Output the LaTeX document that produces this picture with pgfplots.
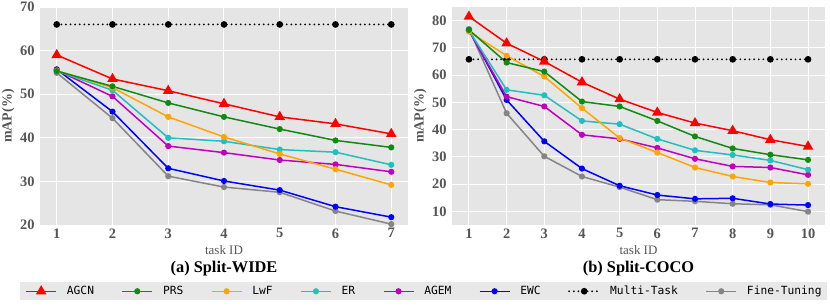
\documentclass[border=0pt]{standalone}
\usepackage{pgfplots}
\pgfplotsset{compat=1.18}
\usepackage{fontspec}
\setmainfont{Liberation Serif}
\newfontfamily\legfont{DejaVu Sans Mono}
\definecolor{bg}{HTML}{E5E5E5}
\definecolor{legbg}{HTML}{E8E8E8}
\definecolor{tickgrey}{HTML}{555555}
\definecolor{cgreen}{HTML}{108A10}
\definecolor{corange}{HTML}{FFA500}
\definecolor{ccyan}{HTML}{1FC0C0}
\definecolor{cmag}{HTML}{C000C0}
\definecolor{cblue}{HTML}{0000FF}
\definecolor{cgrey}{HTML}{858585}
\pgfplotsset{
  myax/.style={
    scale only axis, height=218bp,
    axis background/.style={fill=bg},
    axis line style={draw=none},
    major tick length=0pt,
    grid=major, grid style={white, line width=1bp},
    /pgf/number format/assume math mode=true,
    ticklabel style={font=\fontsize{14.5}{14}\selectfont\bfseries, text=tickgrey},
    yticklabel style={xshift=-2bp},
    xlabel={task ID},
    xlabel style={font=\fontsize{13}{13}\selectfont, text=tickgrey, yshift=0bp},
    ylabel={mAP(\%)},
    ylabel style={font=\fontsize{14}{14}\selectfont\bfseries, text=tickgrey, yshift=-1.5bp},
    title style={at={(0.5,-0.225)}, anchor=center, font=\fontsize{16.4}{16}\selectfont\bfseries},
    every axis plot/.append style={line width=1.5bp},
    legend image code/.code={
      \draw[mark repeat=2,mark phase=2,##1] plot coordinates {(0bp,0bp) (15bp,0bp) (30bp,0bp)};
    },
    clip=false,
  },
  agcn/.style={red, mark=triangle*, mark size=4.6bp},
  prs/.style={cgreen, mark=*, mark size=2.3bp},
  lwf/.style={corange, mark=*, mark size=2.3bp},
  er/.style={ccyan, mark=*, mark size=2.3bp},
  agem/.style={cmag, mark=*, mark size=2.3bp},
  ewc/.style={cblue, mark=*, mark size=2.3bp},
  multi/.style={black, line width=2bp, dash pattern=on 0bp off 4.6bp, line cap=round, mark=*, mark size=2.3bp, mark options={solid}},
  ft/.style={cgrey, mark=*, mark size=2.3bp},
}
\begin{document}
\begin{tikzpicture}
\begin{axis}[myax, width=368bp, xmin=0.7, xmax=7.3, ymin=20, ymax=70,
  xtick={1,...,7}, ytick={20,30,...,70}, title={(a) Split-WIDE}]
\addplot[multi] coordinates {(1,66) (2,66) (3,66) (4,66) (5,66) (6,66) (7,66)};
\addplot[ft] coordinates {(1,54.9) (2,44.5) (3,31.2) (4,28.7) (5,27.5) (6,23.2) (7,20.2)};
\addplot[ewc] coordinates {(1,55.7) (2,46.0) (3,33.0) (4,30.1) (5,28.0) (6,24.2) (7,21.8)};
\addplot[agem] coordinates {(1,55.5) (2,49.5) (3,38.1) (4,36.6) (5,34.9) (6,33.9) (7,32.2)};
\addplot[er] coordinates {(1,55.3) (2,50.9) (3,40.0) (4,39.2) (5,37.3) (6,36.7) (7,33.8)};
\addplot[lwf] coordinates {(1,55.4) (2,51.5) (3,44.8) (4,40.2) (5,36.3) (6,32.8) (7,29.2)};
\addplot[prs] coordinates {(1,55.3) (2,51.8) (3,48.0) (4,44.8) (5,42.0) (6,39.4) (7,37.8)};
\addplot[agcn] coordinates {(1,59.0) (2,53.5) (3,50.8) (4,47.8) (5,44.8) (6,43.2) (7,40.9)};
\end{axis}
\begin{axis}[myax, at={(412bp,0bp)}, width=373bp, xmin=0.55, xmax=10.45, ymin=5, ymax=85,
  xtick={1,...,10}, ytick={10,20,...,80}, title={(b) Split-COCO},
  legend columns=8,
  legend style={at={(axis description cs:-0.0764,-0.2615)}, anchor=north,
    fill=legbg, draw=none, inner xsep=5bp, inner ysep=1bp,
    font=\legfont\fontsize{11.3}{12}\selectfont,
    nodes={inner xsep=0bp, inner ysep=3bp},
    /tikz/every odd column/.append style={column sep=10bp},
    /tikz/every even column/.append style={column sep=27.5bp}},
  ]
\addlegendimage{agcn}\addlegendentry{AGCN}
\addlegendimage{prs}\addlegendentry{PRS}
\addlegendimage{lwf}\addlegendentry{LwF}
\addlegendimage{er}\addlegendentry{ER}
\addlegendimage{agem}\addlegendentry{AGEM}
\addlegendimage{ewc}\addlegendentry{EWC}
\addlegendimage{multi}\addlegendentry{Multi-Task}
\addlegendimage{ft}\addlegendentry{Fine-Tuning}
\addplot[multi, forget plot] coordinates {(1,65.8) (2,65.8) (3,65.8) (4,65.8) (5,65.8) (6,65.8) (7,65.8) (8,65.8) (9,65.8) (10,65.8)};
\addplot[ft, forget plot] coordinates {(1,76.9) (2,46.0) (3,30.2) (4,22.8) (5,18.9) (6,14.3) (7,13.7) (8,12.8) (9,12.4) (10,9.9)};
\addplot[ewc, forget plot] coordinates {(1,76.6) (2,50.9) (3,35.7) (4,25.7) (5,19.4) (6,16.0) (7,14.6) (8,14.8) (9,12.7) (10,12.3)};
\addplot[agem, forget plot] coordinates {(1,76.3) (2,52.1) (3,48.5) (4,38.1) (5,36.6) (6,33.3) (7,29.3) (8,26.5) (9,26.1) (10,23.4)};
\addplot[er, forget plot] coordinates {(1,76.4) (2,54.6) (3,52.6) (4,43.2) (5,42.0) (6,36.6) (7,32.4) (8,30.7) (9,28.7) (10,25.3)};
\addplot[lwf, forget plot] coordinates {(1,76.0) (2,67.1) (3,59.5) (4,47.9) (5,36.9) (6,31.6) (7,26.1) (8,22.8) (9,20.6) (10,20.1)};
\addplot[prs, forget plot] coordinates {(1,76.6) (2,64.6) (3,61.3) (4,50.3) (5,48.5) (6,43.2) (7,37.5) (8,33.1) (9,30.8) (10,28.9)};
\addplot[agcn, forget plot] coordinates {(1,81.5) (2,71.7) (3,65.0) (4,57.4) (5,51.2) (6,46.3) (7,42.4) (8,39.6) (9,36.3) (10,33.8)};
\end{axis}
\pgfresetboundingbox
\path[use as bounding box] (-40bp,-83bp) rectangle (790bp,225bp);
\end{tikzpicture}
\end{document}
